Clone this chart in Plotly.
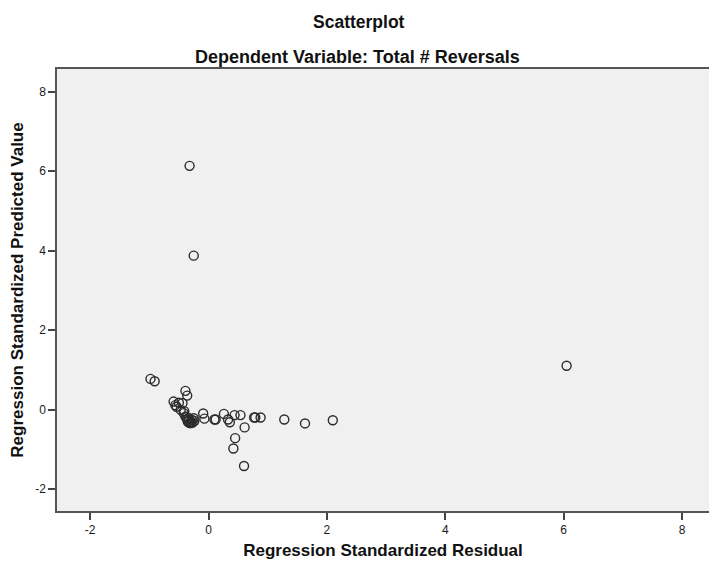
import plotly.graph_objects as go

# Regression standardized residual (x) vs standardized predicted value (y)
residual = [-0.32, -0.25, 6.05, -0.98, -0.91, -0.39, -0.36, -0.59, -0.50, -0.44,
            -0.54, -0.47, -0.56, -0.42, -0.41, -0.39, -0.36, -0.33, -0.30, -0.28,
            -0.25, -0.35, -0.32, -0.27, -0.37, -0.34, -0.30, -0.24, -0.09, -0.07,
            0.10, 0.12, 0.26, 0.33, 0.36, 0.44, 0.54, 0.61, 0.45, 0.42,
            0.60, 0.77, 0.79, 0.88, 1.28, 1.63, 2.10]
predicted = [6.13, 3.87, 1.10, 0.77, 0.71, 0.47, 0.35, 0.20, 0.17, 0.16,
             0.07, -0.01, 0.11, -0.09, -0.04, -0.18, -0.25, -0.28, -0.31, -0.26,
             -0.22, -0.31, -0.34, -0.33, -0.19, -0.21, -0.34, -0.29, -0.10, -0.23,
             -0.25, -0.25, -0.11, -0.25, -0.32, -0.14, -0.14, -0.45, -0.72, -0.98,
             -1.42, -0.20, -0.20, -0.20, -0.25, -0.35, -0.27]
tick_vals = [-2, 0, 2, 4, 6, 8]
tick_text = ["-2", "0", "2", "4", "6", "8"]

FONT = "Arial, Liberation Sans, sans-serif"
W, H = 709, 563
ML, MR, MT, MB = 57, 0, 69, 52

fig = go.Figure()
fig.add_trace(go.Scatter(
    x=residual, y=predicted, mode="markers",
    marker=dict(symbol="circle-open", size=9, color="#2b2b2b",
                line=dict(width=1.4, color="#2b2b2b")),
    hoverinfo="x+y", showlegend=False,
))

axis_common = dict(
    tickvals=tick_vals, ticktext=tick_text, showgrid=False, zeroline=False,
    showline=True, linecolor="#555555", linewidth=1.5, ticks="outside",
    ticklen=7, tickwidth=1.5, tickcolor="#444444",
    tickfont=dict(family=FONT, size=12, color="#1a1a1a"),
)

fig.update_layout(
    width=W, height=H,
    margin=dict(l=ML, r=MR, t=MT, b=MB),
    paper_bgcolor="white",
    plot_bgcolor="#F0F0F0",
    font=dict(family=FONT, size=11, color="#222222"),
    xaxis=dict(range=[-2.56, 8.456], mirror=True,
               title=dict(text="<b>Regression Standardized Residual</b>",
                          font=dict(family=FONT, size=17, color="#111111"),
                          standoff=8),
               **axis_common),
    yaxis=dict(range=[-2.553, 8.566],
               title=dict(text="<b>Regression Standardized Predicted Value</b>",
                          font=dict(family=FONT, size=17, color="#111111"),
                          standoff=7),
               **axis_common),
)

plot_w = W - ML - MR
plot_h = H - MT - MB

def px_x(pix_x):
    return (pix_x - ML) / plot_w

def px_y(pix_y):
    return (H - MB - pix_y) / plot_h

fig.update_layout(annotations=[
    dict(text="<b>Scatterplot</b>", x=px_x(359), xref="paper",
         y=px_y(22), yref="paper", yanchor="middle", showarrow=False,
         font=dict(family=FONT, size=17.5, color="#111111")),
    dict(text="<b>Dependent Variable: Total # Reversals</b>", x=px_x(357),
         xref="paper", y=px_y(57), yref="paper", yanchor="middle",
         showarrow=False, font=dict(family=FONT, size=18, color="#111111")),
])

fig.write_html("out.html", config={"displayModeBar": False},
               post_script="document.body.style.margin='0';document.body.style.overflow='hidden';")
